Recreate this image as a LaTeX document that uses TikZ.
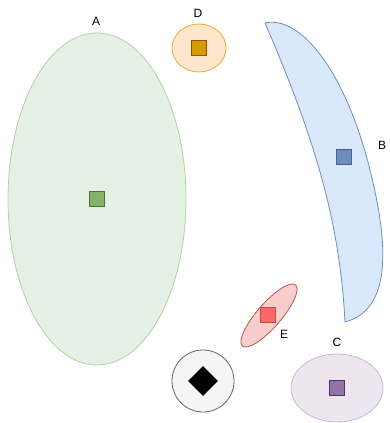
\documentclass[tikz,border=0pt]{standalone}
\usepackage{fontspec}
\setmainfont{Liberation Sans}
\usetikzlibrary{shapes.geometric}
\definecolor{gfill}{HTML}{D5E8D4}\definecolor{gline}{HTML}{82B366}
\definecolor{bfill}{HTML}{DAE8FC}\definecolor{bline}{HTML}{6C8EBF}
\definecolor{ofill}{HTML}{FFE6CC}\definecolor{oline}{HTML}{D79B00}
\definecolor{rfill}{HTML}{F8CECC}\definecolor{rline}{HTML}{B85450}
\definecolor{pfill}{HTML}{E1D5E7}\definecolor{pline}{HTML}{9673A6}
\definecolor{nfill}{HTML}{F5F5F5}\definecolor{nline}{HTML}{666666}
\tikzset{
  blob/.style={ellipse, draw, inner sep=0pt, line width=0.6pt},
  marker/.style={rectangle, draw, minimum size=11.25pt, inner sep=0pt, line width=0.6pt},
  tag/.style={font=\fontsize{9pt}{10pt}\selectfont, inner sep=0pt}
}
\begin{document}
\begin{tikzpicture}[x=0.75pt,y=-0.75pt]
\useasboundingbox (0,0) rectangle (389,423);
% A
\node[blob, fill=gfill!60, draw=gline!60, minimum width=178*0.75pt, minimum height=332*0.75pt] (a) at (97,199) {};
\node[marker, fill=gline, draw=gline!60!black] (am) at (97,199) {};
\node[tag] (al) at (96,21) {A};
% D
\node[blob, fill=ofill, draw=oline!80, minimum width=54*0.75pt, minimum height=48*0.75pt] (d) at (199,48) {};
\node[marker, fill=oline, draw=oline!60!black] (dm) at (199,48) {};
\node[tag] (dl) at (198,13) {D};
% B: crescent
\draw[fill=bfill, draw=bline, line width=0.6pt]
  (265,23) .. controls (300,15) and (345,70) .. (370,170)
  .. controls (390,250) and (390,310) .. (345,322)
  .. controls (340,230) and (320,150) .. (265,23) -- cycle;
\node[marker, fill=bline, draw=bline!70!black] (bm) at (344,157) {};
\node[tag] (bl) at (382,145) {B};
% E
\node[blob, rotate=49, fill=rfill, draw=rline, minimum width=81*0.75pt, minimum height=24*0.75pt] (e) at (269,315.5) {};
\node[marker, fill=red!60, draw=rline] (em) at (268,315) {};
\node[tag] (el) at (284,334) {E};
% C
\node[blob, fill=pfill!60, draw=pline!50, minimum width=92*0.75pt, minimum height=68*0.75pt] (c) at (337,388) {};
\node[marker, fill=pline, draw=pline!50!black] (cm) at (337,388) {};
\node[tag] (cl) at (337,342) {C};
% round button with a diamond
\node[circle, draw=nline, fill=nfill, line width=0.6pt, minimum size=62*0.75pt, inner sep=0pt] (k) at (203,381) {};
\node[diamond, fill=black, minimum size=30*0.75pt, inner sep=0pt] (km) at (203,381) {};
\end{tikzpicture}
\end{document}
